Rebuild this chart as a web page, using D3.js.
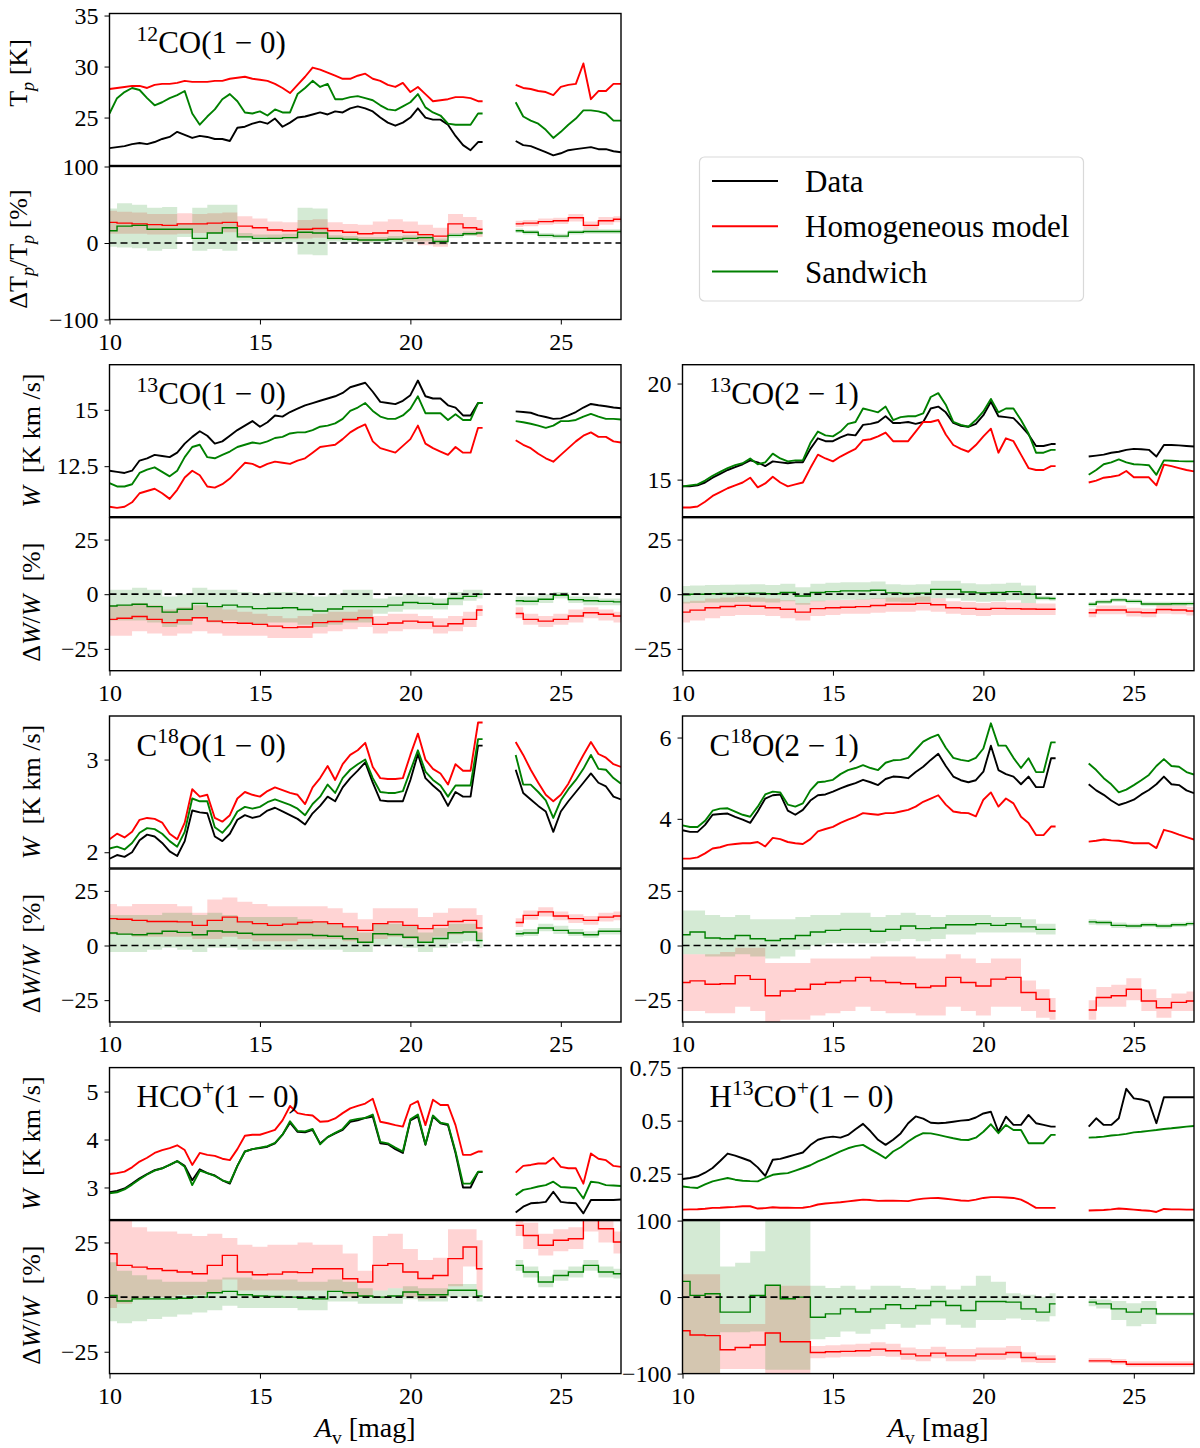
<!DOCTYPE html>
<html>
<head>
<meta charset="utf-8">
<script src="https://cdn.jsdelivr.net/npm/d3@7"></script>
<style>
  body { margin: 0; background: #fff; }
  text { font-family: "Liberation Serif", "DejaVu Serif", serif; fill: #000; }
</style>
</head>
<body>
<svg id="chart" width="1200" height="1448"></svg>
<script>
// A_v sample grids (two segments, gap between 22.4 and 23.5 mag)
const avA = [10,10.25,10.5,10.75,11,11.25,11.5,11.75,12,12.25,12.5,12.75,13,13.25,13.5,13.75,14,14.25,14.5,14.75,15,15.25,15.5,15.75,16,16.25,16.5,16.75,17,17.25,17.5,17.75,18,18.25,18.5,18.75,19,19.25,19.5,19.75,20,20.25,20.5,20.75,21,21.25,21.5,21.75,22,22.25,22.4];
const avB = [23.5,23.75,24,24.25,24.5,24.75,25,25.25,25.5,25.75,26,26.25,26.5,26.75,27];
const devA = [10,10.5,11,11.5,12,12.5,13,13.5,14,14.5,15,15.5,16,16.5,17,17.5,18,18.5,19,19.5,20,20.5,21,21.5,22,22.4];
const devB = [23.5,24,24.5,25,25.5,26,26.5,27];

const xTicks = [10, 15, 20, 25];
const legendLabels = ['Data', 'Homogeneous model', 'Sandwich'];

// ---- 12CO(1-0) ----
const co12Data = [22.0,22.1,22.2,22.4,22.5,22.4,22.6,22.9,23.1,23.6,23.3,23.0,23.2,23.1,22.9,22.9,22.7,24.0,24.1,24.4,24.6,24.4,24.9,24.1,24.5,25.0,25.1,25.3,25.5,25.3,25.6,25.5,25.9,26.1,25.9,25.6,25.0,24.5,24.2,24.5,25.0,25.9,25.0,24.8,24.8,24.3,23.2,22.3,21.8,22.6,22.6,
  22.7,22.3,22.2,21.9,21.6,21.3,21.5,21.8,21.9,22.0,22.1,21.9,21.9,21.7,21.6];
const co12Homo = [27.8,27.9,28.0,28.1,28.1,27.9,28.2,28.3,28.3,28.4,28.6,28.5,28.5,28.5,28.6,28.6,28.8,28.9,29.0,28.8,28.7,28.6,28.3,27.9,27.4,28.2,29.0,29.9,29.7,29.4,29.1,28.8,28.8,29.1,29.3,28.8,28.6,28.2,28.0,28.4,27.5,28.0,27.3,26.6,26.7,26.8,27.0,27.0,26.9,26.6,26.6,
  28.2,27.9,27.8,27.6,27.5,27.2,28.0,28.2,28.3,30.3,26.8,27.6,27.6,28.3,28.3];
const co12Sand = [25.4,26.9,27.5,27.9,27.7,26.9,26.2,26.5,26.9,27.2,27.6,25.4,24.3,25.1,25.8,26.8,27.3,26.6,25.5,25.4,25.6,25.2,25.8,25.5,25.5,27.3,27.9,28.6,28.0,28.3,26.8,26.8,27.0,27.1,26.9,26.7,26.2,25.8,25.7,26.1,26.5,27.3,26.0,25.5,25.2,24.4,24.3,24.3,24.3,25.4,25.4,
  26.5,25.1,24.7,24.4,23.8,23.0,23.6,24.3,24.9,25.7,25.7,25.6,25.4,24.7,24.7];
const co12DevHomo = [27,26,25,24,23,25,25,26,27,22,20,17,16,18,19,16,14,12,13,16,14,11,9,25,20,18, 25,26,28,29,33,23,29,31];
const co12DevHomoLo = [12,12,12,11,11,12,13,13,14,9,8,6,5,6,7,5,4,2,3,4,2,-3,-5,12,10,8, 21,22,24,25,28,18,24,27];
const co12DevHomoHi = [42,41,40,38,38,39,38,39,40,35,32,28,27,30,31,27,25,24,28,31,28,24,20,38,34,30, 29,30,32,33,38,28,34,35];
const co12DevSand = [16,22,23,18,18,18,6,13,20,8,6,6,7,14,13,6,5,4,4,5,6,7,2,10,12,13, 16,14,10,9,14,15,15,15];
const co12DevSandLo = [-5,-6,-7,-10,-8,8,-10,-8,-10,3,1,1,1,-15,-16,2,1,0,0,1,1,2,-2,7,9,10, 13,11,7,6,11,12,12,12];
const co12DevSandHi = [45,52,50,46,47,26,46,50,50,13,11,11,12,46,45,10,9,8,8,9,10,11,6,13,15,16, 19,17,13,12,17,18,18,18];

// ---- 13CO(1-0) ----
const co13aData = [12.3,12.25,12.2,12.3,12.75,12.85,13.0,12.95,12.9,13.1,13.5,13.8,14.05,13.85,13.5,13.6,13.85,14.1,14.3,14.5,14.25,14.45,14.75,14.7,14.9,15.05,15.2,15.3,15.4,15.5,15.6,15.75,16.0,16.1,16.2,15.8,15.35,15.3,15.25,15.4,15.65,16.3,15.6,15.5,15.5,15.2,15.1,14.75,14.75,15.3,15.3,
  14.93,14.9,14.87,14.75,14.68,14.6,14.62,14.75,14.9,15.1,15.26,15.2,15.16,15.1,15.07];
const co13aHomo = [10.7,10.65,10.7,10.9,11.3,11.4,11.5,11.3,11.05,11.45,12.0,12.3,12.1,11.6,11.55,11.7,11.95,12.3,12.65,12.6,12.45,12.6,12.7,12.65,12.6,12.75,12.85,13.1,13.35,13.4,13.45,13.7,14.0,14.2,14.35,13.6,13.3,13.2,13.1,13.4,13.7,14.3,13.5,13.3,13.15,13.0,13.35,13.1,13.1,14.2,14.2,
  13.65,13.45,13.3,13.05,12.85,12.7,13.0,13.3,13.6,13.85,14.0,13.8,13.8,13.6,13.55];
const co13aSand = [11.75,11.6,11.6,11.7,12.2,12.35,12.45,12.25,12.05,12.3,12.9,13.35,13.45,12.9,12.85,13.0,13.15,13.35,13.45,13.55,13.5,13.6,13.75,13.8,13.95,14.0,14.0,14.1,14.25,14.3,14.4,14.6,14.95,15.1,15.3,14.95,14.7,14.6,14.6,14.75,15.05,15.6,14.85,14.85,14.85,14.55,14.8,14.55,14.55,15.3,15.3,
  14.5,14.45,14.38,14.3,14.2,14.3,14.5,14.5,14.55,14.7,14.82,14.7,14.6,14.6,14.57];
const co13aDevHomo = [-11.5,-11.0,-10.2,-11.5,-13.0,-11.8,-10.8,-12.3,-13.0,-13.3,-13.8,-14.6,-15.3,-15.0,-13.0,-12.5,-11.6,-10.8,-13.8,-13.2,-12.3,-12.8,-14.6,-13.5,-11.5,-7.2, -8.8,-11.5,-12.3,-11.5,-10,-8.5,-9.2,-10];
const co13aDevHomoLo = [-19,-19,-17,-18,-19,-18,-17,-18,-19,-19,-19,-20,-20,-20,-18,-17,-16,-15,-18,-17,-16,-16,-18,-17,-15,-10, -11,-14,-15,-14,-13,-11,-12,-13];
const co13aDevHomoHi = [-5,-5,-4,-5,-7,-6,-5,-6,-7,-8,-9,-10,-11,-10,-9,-8,-8,-7,-10,-9,-9,-10,-11,-10,-8,-5, -6,-9,-10,-9,-7,-6,-7,-8];
const co13aDevSand = [-5.4,-5.0,-4.6,-5.7,-8.2,-6.9,-4.2,-5.7,-5.0,-5.8,-6.6,-6.4,-6.2,-7.0,-7.7,-6.8,-5.7,-5.7,-5.7,-5.0,-3.8,-4.2,-4.6,-2.0,-1.0,0.0, -3.0,-3.2,-2.3,-0.5,-2.5,-3.0,-3.3,-3.5];
const co13aDevSandLo = [-12,-12,-12,-13,-15,-14,-11,-13,-12,-13,-14,-13,-13,-14,-15,-14,-13,-13,-9,-8,-7,-7,-7,-5,-3,-2, -5,-5,-4,-2,-4,-5,-5,-5];
const co13aDevSandHi = [2,2,3,2,-1,0,3,2,2,1,0,1,1,0,-1,0,2,2,-2,-1,0,-1,-2,1,2,2, -1,-1,0,1,-1,-1,-2,-2];

// ---- 13CO(2-1) ----
const co13bData = [14.65,14.65,14.7,14.85,15.1,15.3,15.5,15.65,15.8,16.0,15.9,15.7,15.95,15.9,15.85,15.9,15.9,16.6,17.15,17.0,17.0,17.2,17.35,17.3,17.85,17.9,18.0,18.3,17.95,17.95,18.0,17.9,18.0,18.7,18.8,18.5,17.95,17.8,17.75,17.9,18.35,19.05,18.3,18.25,18.2,17.8,17.35,16.75,16.75,16.85,16.85,
  16.2,16.25,16.3,16.4,16.45,16.55,16.6,16.58,16.55,16.2,16.8,16.8,16.78,16.75,16.72];
const co13bHomo = [13.55,13.55,13.6,13.85,14.15,14.35,14.55,14.7,14.85,15.1,14.6,14.8,15.15,14.85,14.65,14.75,14.85,15.6,16.3,16.1,15.95,16.2,16.4,16.6,17.05,17.1,17.25,17.45,17.0,17.0,17.0,17.5,18.0,18.0,18.1,17.35,16.8,16.6,16.45,16.8,17.25,17.65,16.4,17.15,17.0,16.3,15.6,15.5,15.5,15.7,15.7,
  14.85,14.95,15.1,15.15,15.22,15.45,15.12,15.12,15.12,14.7,15.78,15.7,15.6,15.5,15.43];
const co13bSand = [14.65,14.7,14.75,14.95,15.2,15.4,15.6,15.75,15.85,16.1,15.8,15.9,16.35,16.1,15.95,16.0,16.0,16.9,17.5,17.3,17.25,17.5,17.9,18.0,18.7,18.6,18.5,18.8,18.1,18.25,18.3,18.3,18.45,19.3,19.5,18.9,18.0,17.85,17.75,18.1,18.55,19.2,18.5,18.7,18.7,18.1,17.4,16.4,16.4,16.55,16.55,
  15.25,15.5,15.8,15.9,16.05,15.9,15.8,15.78,15.75,15.25,16.0,15.98,15.96,15.95,15.95];
const co13bDevHomo = [-8.2,-7.3,-6.2,-5.6,-5.1,-5.5,-6.2,-6.9,-8.2,-6.6,-6.2,-6.0,-5.7,-5.2,-4.6,-4.6,-4.2,-4.8,-6.2,-6.5,-6.9,-6.5,-6.6,-6.8,-6.9,-6.9, -8.5,-7.2,-7.2,-8.2,-8.5,-7.0,-7.2,-7.7];
const co13bDevHomoLo = [-13,-12,-11,-10,-9.5,-9.5,-10,-11,-12,-10,-9.5,-9,-9,-8.5,-8,-8,-7.5,-8,-9,-9.5,-10,-9.5,-9.5,-9.5,-9.5,-9.5, -10.5,-9.2,-9.2,-10.2,-10.5,-9,-9.2,-9.7];
const co13bDevHomoHi = [-3.5,-3,-2,-1.5,-1,-1.5,-2,-2.8,-4,-3,-2.8,-2.6,-2.4,-2,-1.5,-1.5,-1,-1.8,-3.2,-3.6,-4,-3.6,-3.8,-4,-4.2,-4.2, -6.5,-5.2,-5.2,-6.2,-6.5,-5,-5.2,-5.7];
const co13bDevSand = [-0.3,0.0,0.2,0.3,0.4,0.5,0.2,0.8,-0.8,0.8,1.2,1.5,1.5,1.8,0.6,0.3,0.5,2.2,2.2,1.0,0.6,0.8,1.2,0.0,-1.8,-2.0, -4.6,-3.5,-2.6,-3.3,-4.5,-4.5,-4.4,-4.3];
const co13bDevSandLo = [-4.3,-4,-3.8,-3.7,-3.6,-3.5,-3.8,-3.2,-4.8,-3.2,-2.8,-2.5,-2.5,-2.2,-3.4,-3.7,-3.5,-1.8,-1.8,-3.0,-3.4,-3.2,-2.8,-4.0,-2.8,-3.0, -5.6,-4.5,-3.6,-4.3,-5.5,-5.5,-5.4,-5.3];
const co13bDevSandHi = [3.7,4,4.2,4.3,4.4,4.5,4.2,4.8,3.2,4.8,5.2,5.5,5.5,5.8,4.6,4.3,4.5,6.2,6.2,5.0,4.6,4.8,5.2,4.0,-0.8,-1.0, -3.6,-2.5,-1.6,-2.3,-3.5,-3.5,-3.4,-3.3];

// ---- C18O(1-0) ----
const c18aData = [1.93,1.97,1.95,2.0,2.13,2.19,2.17,2.1,2.01,1.96,2.12,2.45,2.43,2.42,2.17,2.12,2.2,2.35,2.4,2.37,2.39,2.45,2.48,2.44,2.4,2.36,2.3,2.42,2.5,2.6,2.55,2.7,2.8,2.88,2.97,2.75,2.56,2.55,2.55,2.55,2.78,3.06,2.8,2.72,2.65,2.5,2.65,2.6,2.6,3.15,3.15,
  2.89,2.64,2.57,2.5,2.44,2.22,2.44,2.55,2.65,2.75,2.85,2.75,2.71,2.6,2.57];
const c18aHomo = [2.14,2.2,2.16,2.22,2.35,2.37,2.36,2.32,2.2,2.14,2.32,2.68,2.6,2.62,2.37,2.33,2.4,2.58,2.65,2.62,2.6,2.66,2.7,2.67,2.64,2.62,2.52,2.7,2.8,2.93,2.78,2.95,3.05,3.1,3.18,2.92,2.8,2.79,2.79,2.8,3.05,3.28,3.0,2.9,2.85,2.73,2.95,2.88,2.88,3.4,3.4,
  3.19,3.05,2.89,2.75,2.62,2.55,2.62,2.74,2.9,3.05,3.19,3.06,3.02,2.95,2.92];
const c18aSand = [2.04,2.06,2.03,2.1,2.21,2.26,2.25,2.2,2.12,2.06,2.22,2.58,2.55,2.55,2.27,2.21,2.3,2.44,2.49,2.47,2.49,2.54,2.57,2.54,2.51,2.47,2.4,2.52,2.6,2.73,2.64,2.8,2.89,2.95,3.0,2.8,2.65,2.64,2.64,2.66,2.88,3.1,2.87,2.78,2.72,2.6,2.72,2.72,2.72,3.22,3.22,
  3.05,2.73,2.73,2.65,2.56,2.37,2.56,2.68,2.78,2.9,3.05,2.9,2.89,2.8,2.74];
const c18aDevHomo = [12.3,12.0,11.5,11.0,11.0,10.8,9.2,11.5,13.0,10.8,10.0,9.2,9.8,10.5,10.8,10.0,8.5,6.9,10.0,10.8,9.2,7.7,9.2,11.0,11.5,8.0, 10.5,13.8,15.4,13.5,12.3,11.5,13.0,13.5];
const c18aDevHomoLo = [5,5,4,4,4,4,3,3,4,3,2,2,2,3,3,3,2,1,3,4,3,2,4,5,6,3, 8.5,11.8,13.3,11.5,10.3,9.5,11,11.5];
const c18aDevHomoHi = [19,18,19,19,19,18,15,21,22,20,19,18,18,18,18,17,15,12,17,17,17,13,15,17,17,14, 12.5,16,17.5,15.5,14.3,13.5,15,15.5];
const c18aDevSand = [5.7,5.2,4.9,5.5,6.5,6.0,4.9,6.6,6.2,5.6,5.0,5.0,5.0,5.0,4.6,4.2,3.1,1.5,5.4,5.0,3.8,1.5,3.2,5.8,6.2,2.3, 5.4,5.7,8.0,6.9,5.7,4.9,6.5,6.5];
const c18aDevSandLo = [-3,-3,-3,-2,-1,-2,-3,-1,-1,-2,-2,-2,-2,-2,-2,-2,-3,-3,0,0,-1,-3,-1,1,2,-1, 4,4.3,6.5,5.3,4.3,3.5,5,5];
const c18aDevSandHi = [14,14,14,14,15,15,14,15,14,13,13,13,13,12,11,10,8,6,10,10,9,6,8,10,10,6, 7,7.5,10,9,7.5,6.5,8,8];

// ---- C18O(2-1) ----
const c18bData = [3.72,3.68,3.68,3.85,4.1,4.12,4.13,4.05,3.98,3.9,4.18,4.5,4.58,4.6,4.2,4.1,4.22,4.45,4.58,4.6,4.67,4.75,4.82,4.88,4.96,4.9,4.83,4.98,5.04,5.03,5.0,5.15,5.28,5.45,5.6,5.3,5.04,4.95,4.9,4.95,5.16,5.8,5.2,5.1,5.04,4.85,5.04,4.78,4.78,5.49,5.49,
  4.85,4.7,4.59,4.45,4.34,4.4,4.47,4.6,4.71,4.85,5.04,4.85,4.83,4.7,4.63];
const c18bHomo = [3.02,3.02,3.05,3.15,3.27,3.3,3.36,3.38,3.4,3.4,3.43,3.32,3.53,3.5,3.43,3.4,3.38,3.5,3.69,3.75,3.8,3.9,3.98,4.05,4.14,4.12,4.1,4.14,4.14,4.18,4.22,4.3,4.42,4.5,4.58,4.35,4.18,4.15,4.14,4.06,4.47,4.65,4.3,4.5,4.38,4.05,3.9,3.6,3.6,3.81,3.81,
  3.44,3.46,3.49,3.47,3.46,3.43,3.4,3.4,3.4,3.28,3.73,3.68,3.61,3.55,3.49];
const c18bSand = [3.84,3.8,3.8,3.95,4.2,4.25,4.26,4.18,4.1,4.05,4.3,4.6,4.67,4.65,4.35,4.3,4.38,4.7,4.9,4.92,4.96,5.1,5.2,5.25,5.32,5.25,5.2,5.38,5.44,5.45,5.5,5.7,5.9,6.0,6.07,5.75,5.5,5.45,5.42,5.5,5.73,6.35,5.8,5.8,5.5,5.25,5.49,5.15,5.15,5.88,5.88,
  5.36,5.2,5.0,4.85,4.65,4.72,4.83,4.95,5.08,5.3,5.47,5.3,5.28,5.15,5.09];
const c18bDevHomo = [-16.9,-16.2,-17.7,-17.5,-13.8,-15.5,-23.0,-20.8,-20.0,-17.7,-16.9,-16.2,-14.6,-16.2,-16.9,-17.5,-19.2,-18.5,-14.6,-16.9,-18.5,-15.4,-14.6,-21.5,-24.6,-30.0, -29.5,-23.8,-23.0,-20.0,-25.4,-28.5,-26.0,-25.4];
const c18bDevHomoLo = [-30,-30,-31,-31,-28,-30,-35,-34,-34,-32,-31,-30,-28,-30,-31,-31,-32,-32,-28,-30,-32,-28,-28,-30,-33,-34, -34,-28,-28,-25,-30,-33,-30,-30];
const c18bDevHomoHi = [-4,-4,-4,-3,-1,-1,-8,-8,-8,-6,-6,-6,-6,-5,-5,-5,-6,-6,-4,-6,-8,-6,-6,-16,-20,-24, -25,-19,-18,-15,-20,-24,-22,-21];
const c18bDevSand = [4.9,6.2,3.4,3.1,4.6,3.1,2.3,3.1,4.6,6.2,6.9,7.4,7.4,6.5,7.4,8.9,7.7,8.0,9.5,9.5,10.0,9.2,10.0,8.5,7.4,7.4, 10.8,10.5,9.2,8.9,9.5,8.9,9.5,10.0];
const c18bDevSandLo = [-4,-4,-5,-5,-4,-5,-6,-5,-2,0,1,1,1,1,2,3,2,3,5,5,6,6,6,6,5,5, 9.5,9.3,8,7.8,8.5,7.8,8.5,9];
const c18bDevSandHi = [16,16,14,13,14,12,12,12,13,14,14,15,15,13,14,15,14,13,14,14,14,13,13,12,10,10, 12,11.5,10.5,10,10.5,10,10.5,11];

// ---- HCO+(1-0) ----
const hcoData = [2.9,2.93,2.98,3.08,3.19,3.28,3.36,3.4,3.47,3.55,3.45,3.15,3.38,3.3,3.25,3.15,3.08,3.45,3.75,3.8,3.82,3.85,3.92,4.1,4.35,4.16,4.15,4.2,3.92,4.05,4.13,4.2,4.37,4.4,4.45,4.48,3.92,3.9,3.8,3.72,4.4,4.48,3.89,4.48,4.34,4.3,3.72,3.0,3.0,3.32,3.32,
  2.48,2.6,2.67,2.68,2.7,2.91,2.7,2.68,2.67,2.46,2.74,2.74,2.74,2.74,2.75];
const hcoHomo = [3.28,3.3,3.33,3.42,3.54,3.62,3.72,3.78,3.82,3.88,3.78,3.47,3.72,3.68,3.66,3.6,3.57,3.8,4.08,4.1,4.1,4.15,4.2,4.4,4.7,4.55,4.52,4.5,4.37,4.38,4.44,4.55,4.65,4.7,4.75,4.85,4.37,4.34,4.3,4.27,4.72,4.8,4.3,4.83,4.72,4.72,4.3,3.68,3.68,3.75,3.75,
  3.31,3.45,3.47,3.5,3.5,3.62,3.43,3.4,3.4,3.08,3.71,3.6,3.57,3.45,3.43];
const hcoSand = [2.88,2.9,2.96,3.06,3.17,3.27,3.35,3.4,3.47,3.55,3.43,3.05,3.35,3.3,3.24,3.15,3.1,3.45,3.75,3.8,3.83,3.86,3.93,4.1,4.38,4.18,4.17,4.22,3.9,4.05,4.14,4.22,4.4,4.43,4.45,4.52,3.95,3.92,3.83,3.75,4.42,4.52,3.9,4.5,4.35,4.32,3.75,3.08,3.08,3.33,3.33,
  2.84,2.95,2.98,3.02,3.05,3.12,3.01,3.0,2.99,2.77,3.12,3.1,3.05,3.04,3.03];
const hcoDevHomo = [19.8,14.5,13.7,13.0,12.2,11.5,10.7,14.5,19.1,11.5,10.2,10.5,11.5,11.2,13.0,13.0,8.4,6.9,14.5,15.3,11.5,8.5,9.9,17.6,22.9,13.0, 32.8,28.2,23.7,26.0,26.7,35.5,31.3,25.2];
const hcoDevHomoLo = [-5,-3,-1,0,0,1,1,2,8,3,3,3,3,3,3,3,0,0,3,4,0,-1,0,5,14,3, 28,22,19,21,22,30,25,20];
const hcoDevHomoHi = [38,36,32,30,30,29,28,29,27,24,23,24,24,25,24,24,20,12,28,29,22,17,18,31,31,26, 38,34,29,31,32,40,38,30];
const hcoDevSand = [0.8,-1.8,-0.8,-0.8,-0.8,-0.5,0.0,2.0,2.6,1.1,0.5,0.3,0.0,-0.5,-0.8,2.6,2.0,0.5,0.0,0.5,2.3,1.1,1.1,3.1,3.1,0.5, 14.5,11.5,6.9,9.9,11.5,14.5,11.5,10.7];
const hcoDevSandLo = [-11,-12,-11,-10,-9,-8,-7,-6,-4,-5,-5,-5,-5,-6,-6,-2,-2,-3,-3,-3,-1,-2,-2,0,0,-2, 12,9,4.5,7.5,9,12,9,8.5];
const hcoDevSandHi = [16,12,10,8,7,7,7,8,9,9,8,8,8,7,7,8,7,4,3,4,5,4,4,6,6,3, 17,14,9.5,12.5,14,17,14,13];

// ---- H13CO+(1-0) ----
const h13Data = [0.225,0.23,0.238,0.255,0.277,0.31,0.345,0.335,0.323,0.31,0.28,0.24,0.316,0.32,0.33,0.34,0.35,0.385,0.41,0.42,0.425,0.42,0.433,0.46,0.485,0.45,0.41,0.386,0.41,0.44,0.488,0.52,0.51,0.49,0.488,0.49,0.495,0.5,0.503,0.515,0.534,0.542,0.448,0.519,0.48,0.48,0.527,0.488,0.48,0.472,0.472,
  0.472,0.511,0.48,0.48,0.511,0.65,0.605,0.6,0.589,0.488,0.61,0.61,0.61,0.61,0.61];
const h13Homo = [0.081,0.082,0.083,0.085,0.089,0.09,0.092,0.094,0.097,0.097,0.086,0.088,0.092,0.09,0.09,0.089,0.09,0.095,0.105,0.11,0.113,0.116,0.12,0.124,0.128,0.126,0.122,0.123,0.123,0.122,0.121,0.128,0.133,0.135,0.136,0.132,0.128,0.124,0.122,0.128,0.136,0.14,0.14,0.138,0.136,0.128,0.11,0.089,0.089,0.089,0.089,
  0.077,0.078,0.079,0.082,0.086,0.084,0.081,0.078,0.076,0.07,0.084,0.082,0.082,0.081,0.081];
const h13Sand = [0.19,0.186,0.183,0.2,0.214,0.222,0.23,0.222,0.217,0.215,0.214,0.23,0.245,0.25,0.253,0.265,0.277,0.29,0.308,0.322,0.339,0.355,0.37,0.38,0.386,0.365,0.345,0.323,0.355,0.375,0.402,0.425,0.441,0.44,0.433,0.425,0.417,0.41,0.409,0.42,0.448,0.483,0.441,0.48,0.456,0.456,0.394,0.394,0.394,0.433,0.433,
  0.42,0.422,0.425,0.43,0.433,0.438,0.445,0.448,0.452,0.456,0.461,0.464,0.468,0.472,0.475];
const h13DevHomo = [-43.9,-49.6,-50.4,-68.9,-65.8,-62.7,-47.0,-58.3,-58.3,-72.4,-71.5,-71.0,-70.2,-68.0,-70.2,-74.6,-76.8,-73.2,-76.8,-76.8,-74.6,-74.6,-72.4,-79.0,-81.1,-81.1, -83.3,-83.3,-84.6,-87.7,-87.7,-87.7,-87.7,-87.7];
const h13DevHomoLo = [-100,-100,-100,-94,-94,-94,-100,-100,-100,-80,-79,-78,-78,-77,-78,-82,-84,-80,-84,-84,-82,-82,-80,-85,-86,-86, -86,-86,-88,-91,-91,-91,-91,-91];
const h13DevHomoHi = [30,30,30,-35,-35,-35,15,15,15,-64,-63,-62,-61,-59,-61,-66,-68,-65,-68,-68,-66,-66,-64,-72,-76,-76, -80,-80,-81,-84,-84,-84,-84,-84];
const h13DevSand = [20.6,2.2,4.4,-19.7,-19.7,2.0,15.4,-2.2,0.0,-26.3,-21.9,-15.4,-19.5,-15.4,-10.0,-15.0,-11.0,-5.7,-11.0,-17.5,-5.7,-5.7,-6.6,-15.4,-19.7,-8.8, -6.6,-8.8,-15.4,-19.7,-15.4,-21.9,-21.9,-21.9];
const h13DevSandLo = [-100,-100,-100,-46,-46,-45,-95,-95,-95,-55,-52,-45,-48,-42,-35,-40,-36,-28,-36,-40,-30,-30,-28,-30,-32,-25, -12,-15,-30,-38,-35,-24,-24,-24];
const h13DevSandHi = [100,100,100,40,45,60,100,100,100,15,12,15,10,15,15,12,10,15,10,15,28,20,5,3,0,5, -2,-3,-5,-8,-5,-20,-20,-20];

const MINUS = ' \u2212 ';
const panels = [
  { col: 0, row: 0, title: [{t:'12', sup:1}, {t:'CO(1' + MINUS + '0)'}],
    topDomain: [20.3, 35.2], topTicks: [25, 30, 35], botDomain: [-100, 100], botTicks: [-100, 0, 100],
    yLabTop: [{t:'T'}, {t:'p', it:1, sub:1}, {t:' [K]'}],
    yLabBot: [{t:'ΔT'}, {t:'p', it:1, sub:1}, {t:'/T'}, {t:'p', it:1, sub:1}, {t:' [%]'}],
    labX: 27, labTopY: 73, labBotY: 249,
    data: co12Data, homo: co12Homo, sand: co12Sand,
    dH: co12DevHomo, dHlo: co12DevHomoLo, dHhi: co12DevHomoHi, dS: co12DevSand, dSlo: co12DevSandLo, dShi: co12DevSandHi },
  { col: 0, row: 1, title: [{t:'13', sup:1}, {t:'CO(1' + MINUS + '0)'}],
    topDomain: [10.26, 17.0], topTicks: [12.5, 15], botDomain: [-35, 35], botTicks: [-25, 0, 25],
    data: co13aData, homo: co13aHomo, sand: co13aSand,
    dH: co13aDevHomo, dHlo: co13aDevHomoLo, dHhi: co13aDevHomoHi, dS: co13aDevSand, dSlo: co13aDevSandLo, dShi: co13aDevSandHi },
  { col: 1, row: 1, title: [{t:'13', sup:1}, {t:'CO(2' + MINUS + '1)'}],
    topDomain: [13.07, 20.98], topTicks: [15, 20], botDomain: [-35, 35], botTicks: [-25, 0, 25],
    data: co13bData, homo: co13bHomo, sand: co13bSand,
    dH: co13bDevHomo, dHlo: co13bDevHomoLo, dHhi: co13bDevHomoHi, dS: co13bDevSand, dSlo: co13bDevSandLo, dShi: co13bDevSandHi },
  { col: 0, row: 2, title: [{t:'C'}, {t:'18', sup:1}, {t:'O(1' + MINUS + '0)'}],
    topDomain: [1.83, 3.47], topTicks: [2, 3], botDomain: [-35, 35], botTicks: [-25, 0, 25],
    data: c18aData, homo: c18aHomo, sand: c18aSand,
    dH: c18aDevHomo, dHlo: c18aDevHomoLo, dHhi: c18aDevHomoHi, dS: c18aDevSand, dSlo: c18aDevSandLo, dShi: c18aDevSandHi },
  { col: 1, row: 2, title: [{t:'C'}, {t:'18', sup:1}, {t:'O(2' + MINUS + '1)'}],
    topDomain: [2.79, 6.53], topTicks: [4, 6], botDomain: [-35, 35], botTicks: [-25, 0, 25],
    data: c18bData, homo: c18bHomo, sand: c18bSand,
    dH: c18bDevHomo, dHlo: c18bDevHomoLo, dHhi: c18bDevHomoHi, dS: c18bDevSand, dSlo: c18bDevSandLo, dShi: c18bDevSandHi },
  { col: 0, row: 3, title: [{t:'HCO'}, {t:'+', sup:1}, {t:'(1' + MINUS + '0)'}],
    topDomain: [2.33, 5.5], topTicks: [3, 4, 5], botDomain: [-35, 35], botTicks: [-25, 0, 25],
    data: hcoData, homo: hcoHomo, sand: hcoSand,
    dH: hcoDevHomo, dHlo: hcoDevHomoLo, dHhi: hcoDevHomoHi, dS: hcoDevSand, dSlo: hcoDevSandLo, dShi: hcoDevSandHi },
  { col: 1, row: 3, title: [{t:'H'}, {t:'13', sup:1}, {t:'CO'}, {t:'+', sup:1}, {t:'(1' + MINUS + '0)'}],
    topDomain: [0.034, 0.75], topTicks: [0.25, 0.5, 0.75], botDomain: [-100, 100], botTicks: [-100, 0, 100],
    data: h13Data, homo: h13Homo, sand: h13Sand,
    dH: h13DevHomo, dHlo: h13DevHomoLo, dHhi: h13DevHomoHi, dS: h13DevSand, dSlo: h13DevSandLo, dShi: h13DevSandHi }
];

const wLab = [{t:'W', it:1}, {t:'  [K km /s]'}];
const dwLab = [{t:'Δ'}, {t:'W', it:1}, {t:'/'}, {t:'W', it:1}, {t:'  [%]'}];
const avLab = [{t:'A', it:1}, {t:'v', sub:1}, {t:' [mag]'}];

// layout
const colX = [109.5, 682.5];
const rowY = [13.5, 364.7, 716, 1067.6];
const plotW = 511.5, topH = 152, botGap = 1, botH = 153;
const RED = '#ff0000', GREEN = '#008000';
const tickFs = 24, labFs = 26, titleFs = 31;

const svg = d3.select('#chart');
const fmt = d3.format('~g');

function rich(text, parts, fs) {
  let shift = 0;
  parts.forEach(p => {
    const target = p.sub ? 0.26 * fs : p.sup ? -0.4 * fs : 0;
    const ts = text.append('tspan').text(p.t).attr('dy', target - shift);
    shift = target;
    if (p.sub || p.sup) ts.attr('font-size', fs * 0.7);
    if (p.it) ts.attr('font-style', 'italic');
  });
}

// split a value array into its two A_v segments
function segs(gA, gB, vals) {
  return [gA.map((a, i) => [a, vals[i]]), gB.map((b, i) => [b, vals[gA.length + i]])];
}
function bandSegs(gA, gB, lo, hi) {
  return [gA.map((a, i) => [a, lo[i], hi[i]]),
          gB.map((b, i) => [b, lo[gA.length + i], hi[gA.length + i]])];
}

const defs = svg.append('defs');

panels.forEach((p, k) => {
  const x0 = colX[p.col], y0 = rowY[p.row];
  const b0 = y0 + topH + botGap;
  const x = d3.scaleLinear().domain([10, 27]).range([x0, x0 + plotW]);
  const yT = d3.scaleLinear().domain(p.topDomain).range([y0 + topH, y0]);
  const yB = d3.scaleLinear().domain(p.botDomain).range([b0 + botH, b0]);

  defs.append('clipPath').attr('id', 'ct' + k).append('rect')
    .attr('x', x0).attr('y', y0).attr('width', plotW).attr('height', topH);
  defs.append('clipPath').attr('id', 'cb' + k).append('rect')
    .attr('x', x0).attr('y', b0).attr('width', plotW).attr('height', botH);

  // ---- upper subplot: integrated intensities
  const gt = svg.append('g').attr('clip-path', `url(#ct${k})`);
  const lineT = d3.line().x(d => x(d[0])).y(d => yT(d[1]));
  [[p.data, '#000'], [p.homo, RED], [p.sand, GREEN]].forEach(([vals, c]) => {
    segs(avA, avB, vals).forEach(s => {
      gt.append('path').attr('d', lineT(s)).attr('fill', 'none')
        .attr('stroke', c).attr('stroke-width', 1.9).attr('stroke-linejoin', 'round');
    });
  });

  // ---- lower subplot: relative deviations
  const gb = svg.append('g').attr('clip-path', `url(#cb${k})`);
  const area = d3.area().x(d => x(d[0])).y0(d => yB(d[1])).y1(d => yB(d[2])).curve(d3.curveStep);
  const lineB = d3.line().x(d => x(d[0])).y(d => yB(d[1])).curve(d3.curveStep);
  [[p.dHlo, p.dHhi, RED], [p.dSlo, p.dShi, GREEN]].forEach(([lo, hi, c]) => {
    bandSegs(devA, devB, lo, hi).forEach(s => {
      gb.append('path').attr('d', area(s)).attr('fill', c).attr('fill-opacity', 0.17).attr('stroke', 'none');
    });
  });
  [[p.dH, RED], [p.dS, GREEN]].forEach(([vals, c]) => {
    segs(devA, devB, vals).forEach(s => {
      gb.append('path').attr('d', lineB(s)).attr('fill', 'none')
        .attr('stroke', c).attr('stroke-width', 1.4);
    });
  });
  gb.append('line').attr('x1', x(10)).attr('x2', x(27)).attr('y1', yB(0)).attr('y2', yB(0))
    .attr('stroke', '#000').attr('stroke-width', 1.7).attr('stroke-dasharray', '7,4');

  // ---- axes
  const styleAxis = g => {
    g.select('.domain').remove();
    g.selectAll('.tick line').attr('stroke', '#000').attr('stroke-width', 1);
    g.selectAll('.tick text').attr('font-size', tickFs)
      .attr('font-family', '"Liberation Serif", "DejaVu Serif", serif').attr('fill', '#000');
  };
  svg.append('g').attr('transform', `translate(${x0},0)`)
    .call(d3.axisLeft(yT).tickValues(p.topTicks).tickSize(5).tickPadding(6).tickFormat(fmt)).call(styleAxis);
  svg.append('g').attr('transform', `translate(${x0},0)`)
    .call(d3.axisLeft(yB).tickValues(p.botTicks).tickSize(5).tickPadding(6).tickFormat(fmt)).call(styleAxis);
  svg.append('g').attr('transform', `translate(0,${b0 + botH})`)
    .call(d3.axisBottom(x).tickValues(xTicks).tickSize(5).tickPadding(8).tickFormat(fmt)).call(styleAxis);

  // frames
  svg.append('rect').attr('x', x0).attr('y', y0).attr('width', plotW).attr('height', topH)
    .attr('fill', 'none').attr('stroke', '#000').attr('stroke-width', 1.4);
  svg.append('rect').attr('x', x0).attr('y', b0).attr('width', plotW).attr('height', botH)
    .attr('fill', 'none').attr('stroke', '#000').attr('stroke-width', 1.4);

  // title
  const tt = svg.append('text').attr('x', x0 + 27).attr('y', y0 + 39.5).attr('font-size', titleFs);
  rich(tt, p.title, titleFs);

  // y labels (left column only)
  if (p.col === 0) {
    const lx = p.labX || 40;
    const ty = p.labTopY || (y0 + topH / 2);
    const by = p.labBotY || (b0 + botH / 2 + 8);
    const t1 = svg.append('text').attr('text-anchor', 'middle').attr('font-size', labFs)
      .attr('xml:space', 'preserve')
      .attr('transform', `translate(${lx},${ty}) rotate(-90)`);
    rich(t1, p.yLabTop || wLab, labFs);
    const t2 = svg.append('text').attr('text-anchor', 'middle').attr('font-size', labFs)
      .attr('xml:space', 'preserve')
      .attr('transform', `translate(${lx},${by}) rotate(-90)`);
    rich(t2, p.yLabBot || dwLab, labFs);
  }

  // x label on the last row
  if (p.row === 3) {
    const xl = svg.append('text').attr('text-anchor', 'middle').attr('font-size', 28)
      .attr('x', x0 + plotW / 2).attr('y', 1437);
    rich(xl, avLab, 28);
  }
});

// legend
const leg = svg.append('g');
leg.append('rect').attr('x', 699.5).attr('y', 157).attr('width', 384).attr('height', 144)
  .attr('rx', 5).attr('fill', '#fff').attr('stroke', '#d9d9d9').attr('stroke-width', 1.2);
const legColors = ['#000', RED, GREEN];
legendLabels.forEach((lab, i) => {
  const cy = 181 + i * 45.3;
  leg.append('line').attr('x1', 712).attr('x2', 778).attr('y1', cy).attr('y2', cy)
    .attr('stroke', legColors[i]).attr('stroke-width', 2);
  leg.append('text').attr('x', 805).attr('y', cy + 11).attr('font-size', 31).text(lab);
});
</script>
</body>
</html>
